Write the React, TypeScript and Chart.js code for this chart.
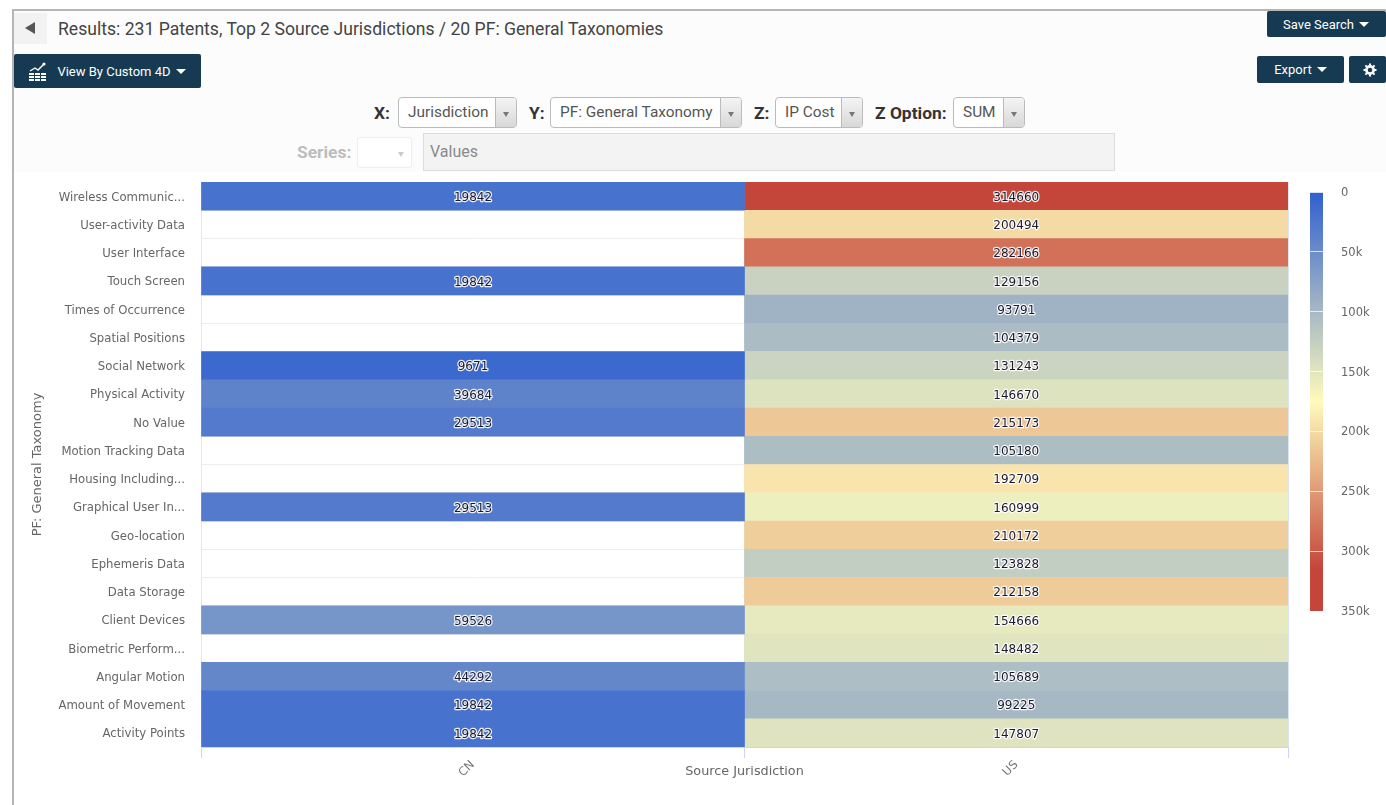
import React, { useEffect, useRef } from "react";
import { Chart, registerables } from "chart.js";

Chart.register(...registerables);

const taxonomies = [
  "Wireless Communic...", "User-activity Data", "User Interface", "Touch Screen", "Times of Occurrence",
  "Spatial Positions", "Social Network", "Physical Activity", "No Value", "Motion Tracking Data",
  "Housing Including...", "Graphical User In...", "Geo-location", "Ephemeris Data", "Data Storage",
  "Client Devices", "Biometric Perform...", "Angular Motion", "Amount of Movement", "Activity Points",
];
const jurisdictions = ["CN", "US"];
const cnValues = [19842, null, null, 19842, null, null, 9671, 39684, 29513, null, null, 29513, null, null, null, 59526, null, 44292, 19842, 19842];
const usValues = [314660, 200494, 282166, 129156, 93791, 104379, 131243, 146670, 215173, 105180, 192709, 160999, 210172, 123828, 212158, 154666, 148482, 105689, 99225, 147807];
const legendTicks = [0, 50000, 100000, 150000, 200000, 250000, 300000, 350000];
const scaleMax = 350000;
const stopFractions = [0, 0.5, 0.9, 1];
const stopColors = [[48, 96, 207], [255, 251, 188], [196, 70, 58], [196, 70, 58]];

const AXIS_FONT = "'DejaVu Sans'";

function colorFor(v: number) {
  const f = Math.min(1, v / scaleMax);
  let i = 0;
  while (i < stopFractions.length - 2 && f > stopFractions[i + 1]) i++;
  const t = (f - stopFractions[i]) / (stopFractions[i + 1] - stopFractions[i]);
  const c = stopColors[i].map((a, k) => Math.round(a + (stopColors[i + 1][k] - a) * t));
  return `rgb(${c[0]},${c[1]},${c[2]})`;
}

function nudgeLabels(scale: any, dy: number) {
  if (scale.__nudged) return;
  scale.__nudged = true;
  const original = scale.drawLabels;
  scale.drawLabels = function (area: any) {
    const { ctx } = this;
    ctx.save();
    ctx.translate(0, dy);
    original.call(this, area);
    ctx.restore();
  };
}

const cellLabels = {
  id: "cellLabels",
  afterDatasetsDraw(chart: any) {
    const { ctx } = chart;
    ctx.save();
    ctx.font = `12px ${AXIS_FONT}`;
    ctx.textAlign = "center";
    ctx.textBaseline = "middle";
    ctx.lineJoin = "round";
    chart.data.datasets.forEach((ds: any, di: number) => {
      chart.getDatasetMeta(di).data.forEach((el: any, i: number) => {
        const v = ds.rawValues[i];
        if (v == null) return;
        const p = el.getCenterPoint();
        ctx.strokeStyle = "rgba(255,255,255,0.9)";
        ctx.lineWidth = 2.4;
        ctx.strokeText(String(v), p.x, p.y + 1.5);
        ctx.fillStyle = "#1a1a2e";
        ctx.fillText(String(v), p.x, p.y + 1.5);
      });
    });
    ctx.restore();
  },
};

const css = `
html,body{margin:0;padding:0;background:#fff;overflow:hidden}
#ui{position:relative;width:1386px;height:805px;overflow:hidden;font-family:Roboto,sans-serif;background:#fff}
#ui .abs{position:absolute;box-sizing:border-box}
#ui .btn{background:#163a52;color:#fff;border-radius:2px;font-size:13px;display:flex;align-items:center;justify-content:center}
#ui .caret{display:inline-block;width:0;height:0;border-left:5px solid transparent;border-right:5px solid transparent;border-top:5px solid #fff;margin-left:5px}
#ui .lab{font-weight:700;font-size:17.4px;color:#333;line-height:20px}
#ui .sel{border:1px solid #bbb;border-radius:4px;background:#fff;font-size:15.4px;color:#555;display:flex;align-items:center;padding-left:9px;padding-bottom:2px;overflow:hidden;height:31px;top:97px}
#ui .sel i{position:absolute;right:0;top:0;bottom:0;width:20px;border-left:1px solid #bbb;background:linear-gradient(#f4f4f4,#d8d8d8)}
#ui .sel i:after{content:"";position:absolute;left:7px;top:14px;border-left:3px solid transparent;border-right:3px solid transparent;border-top:5px solid #777}
`;

function Select({ left, width, text }: { left: number; width: number; text: string }) {
  return (
    <div className="abs sel" style={{ left, width }}>
      {text}
      <i />
    </div>
  );
}

export default function App() {
  const mainRef = useRef<HTMLCanvasElement>(null);
  const legendRef = useRef<HTMLCanvasElement>(null);

  useEffect(() => {
    const cn = cnValues.map((v) => (v == null ? null : [0, 1]));
    const us = usValues.map((v) => (v == null ? null : [1, 2]));
    const main = new Chart(mainRef.current!, {
      type: "bar",
      plugins: [cellLabels],
      data: {
        labels: taxonomies,
        datasets: [
          { label: jurisdictions[0], data: cn, rawValues: cnValues, backgroundColor: cnValues.map((v) => (v == null ? "transparent" : colorFor(v))), grouped: false, barPercentage: 1, categoryPercentage: 1 },
          { label: jurisdictions[1], data: us, rawValues: usValues, backgroundColor: usValues.map((v) => (v == null ? "transparent" : colorFor(v))), grouped: false, barPercentage: 1, categoryPercentage: 1 },
        ] as any,
      },
      options: {
        indexAxis: "y",
        animation: false,
        responsive: false,
        events: [],
        layout: { padding: { top: 10, right: 16, bottom: 0, left: 0 } },
        plugins: { legend: { display: false }, tooltip: { enabled: false } },
        scales: {
          x: {
            type: "linear",
            min: 0,
            max: 2,
            afterBuildTicks: (a: any) => {
              a.ticks = [0, 0.5, 1, 1.5, 2].map((value) => ({ value }));
            },
            afterFit: (a: any) => {
              a.height = 38;
            },
            grid: {
              drawOnChartArea: true,
              tickLength: 11,
              color: (c: any) => (c.tick && c.tick.value % 1 === 0 ? "#dde3f2" : "transparent"),
              tickColor: (c: any) => (c.tick && c.tick.value % 1 === 0 ? "#ccd6eb" : "transparent"),
            },
            border: { display: true, color: "#ccd6eb" },
            ticks: {
              autoSkip: false,
              minRotation: 45,
              maxRotation: 45,
              padding: 0,
              color: "#777",
              font: { family: AXIS_FONT, size: 11.7 },
              callback: (v: any) => (v === 0.5 ? jurisdictions[0] : v === 1.5 ? jurisdictions[1] : ""),
            },
            title: { display: true, text: "Source Jurisdiction", color: "#666", font: { family: AXIS_FONT, size: 12.8 }, padding: { top: 0, bottom: 6 } },
          },
          y: {
            type: "category",
            afterFit: (a: any) => {
              a.width = 187;
              a.paddingTop = 0;
              a.paddingBottom = 0;
            },
            afterUpdate: (a: any) => nudgeLabels(a, 1.5),
            grid: { offset: true, drawTicks: false, color: "#eeeeee" },
            border: { display: true, color: "#e6e6f0" },
            ticks: { autoSkip: false, padding: 16, color: "#666", font: { family: AXIS_FONT, size: 11.7 } },
            title: { display: true, text: "PF: General Taxonomy", color: "#666", font: { family: AXIS_FONT, size: 13 }, padding: { top: 16, bottom: 0 } },
          },
        },
      } as any,
    });

    const legend = new Chart(legendRef.current!, {
      type: "bar",
      data: {
        labels: ["IP Cost"],
        datasets: [
          {
            data: [[0, scaleMax]],
            barPercentage: 1,
            categoryPercentage: 1,
            backgroundColor: (c: any) => {
              const { chart } = c;
              const area = chart.chartArea;
              if (!area) return "#fff";
              const g = chart.ctx.createLinearGradient(0, area.top, 0, area.bottom);
              stopFractions.forEach((f, i) => g.addColorStop(f, `rgb(${stopColors[i].join(",")})`));
              return g;
            },
          },
        ] as any,
      },
      options: {
        animation: false,
        responsive: false,
        events: [],
        layout: { padding: { top: 10, right: 0, bottom: 11, left: 10 } },
        plugins: { legend: { display: false }, tooltip: { enabled: false } },
        scales: {
          x: { display: false },
          y: {
            type: "linear",
            position: "right",
            reverse: true,
            min: 0,
            max: scaleMax,
            afterBuildTicks: (a: any) => {
              a.ticks = legendTicks.map((value) => ({ value }));
            },
            afterFit: (a: any) => {
              a.width = 63;
              a.paddingTop = 0;
              a.paddingBottom = 0;
            },
            afterUpdate: (a: any) => nudgeLabels(a, 1),
            grid: { z: 1, drawTicks: false, color: "rgba(255,255,255,0.75)" },
            border: { display: false },
            ticks: {
              padding: 18,
              color: "#666",
              font: { family: AXIS_FONT, size: 11.5 },
              callback: (v: any) => (v === 0 ? "0" : `${v / 1000}k`),
            },
          },
        },
      } as any,
    });

    return () => {
      main.destroy();
      legend.destroy();
    };
  }, []);

  return (
    <div id="ui">
      <style>{css}</style>
      <div className="abs" style={{ left: 14, top: 10, right: 0, height: 162, background: "#fcfcfc" }} />
      <div className="abs" style={{ left: 12, top: 9, right: 0, height: 2, background: "#b5b5b5" }} />
      <div className="abs" style={{ left: 12, top: 9, bottom: 0, width: 2, background: "#b5b5b5" }} />
      <div className="abs" style={{ left: 14, top: 13, width: 33, height: 31, background: "#f2f2f2" }}>
        <div className="abs" style={{ left: 11, top: 9, borderTop: "6px solid transparent", borderBottom: "6px solid transparent", borderRight: "10px solid #555" }} />
      </div>
      <div className="abs" style={{ left: 58, top: 19, fontSize: 17.6, color: "#444", lineHeight: "20px", whiteSpace: "nowrap" }}>
        Results: 231 Patents, Top 2 Source Jurisdictions / 20 PF: General Taxonomies
      </div>
      <div className="abs btn" style={{ left: 14, top: 54, width: 187, height: 34 }}>
        <svg width="20" height="20" viewBox="0 0 20 20" style={{ marginRight: 9, marginLeft: -1 }}>
          <path d="M2 10 L7 7 L10 9 L16 3" stroke="#fff" strokeWidth="1.4" fill="none" />
          <circle cx="16" cy="3" r="1.6" fill="#fff" />
          <path d="M1 13h17M1 16h17M1 19h17" stroke="#fff" strokeWidth="2" strokeDasharray="5 1" fill="none" />
        </svg>
        View By Custom 4D<span className="caret" />
      </div>
      <div className="abs btn" style={{ left: 1267, top: 11, width: 119, height: 26, justifyContent: "flex-start", paddingLeft: 16 }}>Save Search<span className="caret" /></div>
      <div className="abs btn" style={{ left: 1257, top: 56, width: 87, height: 27 }}>Export<span className="caret" /></div>
      <div className="abs btn" style={{ left: 1349, top: 56, width: 37, height: 27, paddingLeft: 4 }}>
        <svg width="14" height="14" viewBox="0 0 14 14">
          <circle cx="7" cy="7" r="3.6" fill="none" stroke="#fff" strokeWidth="2.6" />
          <path d="M7 0.5v3M7 10.5v3M0.5 7h3M10.5 7h3M2.4 2.4l2 2M9.6 9.6l2 2M11.6 2.4l-2 2M4.4 9.6l-2 2" stroke="#fff" strokeWidth="2" />
        </svg>
      </div>
      <div className="abs lab" style={{ left: 374, top: 103 }}>X:</div>
      <Select left={398} width={119} text="Jurisdiction" />
      <div className="abs lab" style={{ left: 529, top: 103 }}>Y:</div>
      <Select left={550} width={192} text="PF: General Taxonomy" />
      <div className="abs lab" style={{ left: 754, top: 103 }}>Z:</div>
      <Select left={775} width={88} text="IP Cost" />
      <div className="abs lab" style={{ left: 875, top: 103 }}>Z Option:</div>
      <Select left={953} width={72} text="SUM" />
      <div className="abs lab" style={{ left: 297, top: 142, color: "#bdbdbd" }}>Series:</div>
      <div className="abs" style={{ left: 357, top: 137, width: 55, height: 31, border: "1px solid #eee", borderRadius: 3, background: "#fff" }}>
        <div className="abs" style={{ left: 40, top: 14, borderLeft: "3px solid transparent", borderRight: "3px solid transparent", borderTop: "5px solid #ccc" }} />
      </div>
      <div className="abs" style={{ left: 423, top: 133, width: 692, height: 38, background: "#f3f3f3", border: "1px solid #ddd", fontSize: 16, color: "#8a8a8a", padding: "8px 6px", lineHeight: "20px" }}>
        Values
      </div>
      <canvas ref={mainRef} width={1290} height={613} style={{ position: "absolute", left: 14, top: 172, width: 1290, height: 613 }} />
      <canvas ref={legendRef} width={86} height={440} style={{ position: "absolute", left: 1300, top: 182, width: 86, height: 440 }} />
    </div>
  );
}
